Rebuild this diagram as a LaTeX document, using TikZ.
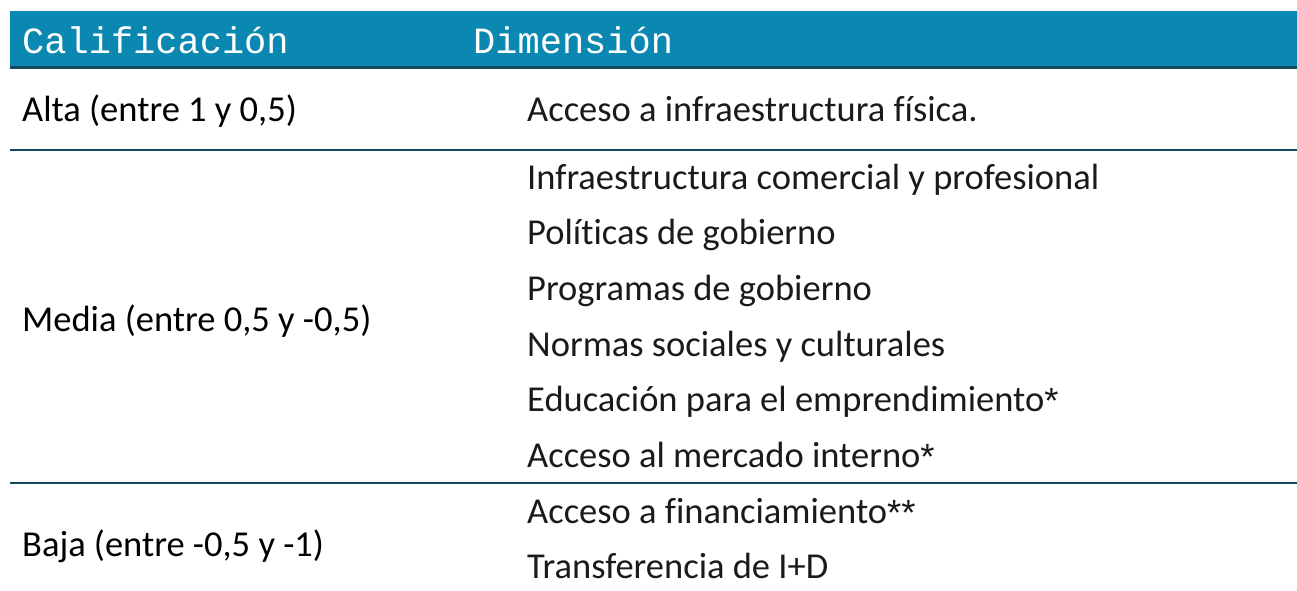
\documentclass[tikz,border=0pt]{standalone}
\usepackage{fontspec}
\setmainfont[Ligatures={NoCommon,NoRare,NoDiscretionary}]{Carlito}
\newfontfamily\hdrfont{Liberation Mono}
\newfontfamily\astfont{Liberation Sans}
\newcommand{\myast}{{\astfont\raisebox{-2pt}{*}}}
\definecolor{hdrfill}{HTML}{0A88B1}
\definecolor{ruledark}{HTML}{134B5C}
\definecolor{bodytext}{HTML}{1A1A1A}
\begin{document}
\begin{tikzpicture}[x=1pt,y=-1pt,
  hdr/.style={anchor=base west,inner sep=0pt,text=white,font=\hdrfont\fontsize{37}{40}\selectfont},
  lefttxt/.style={anchor=base west,inner sep=0pt,text=black,font=\fontsize{36.5}{40}\selectfont},
  righttxt/.style={anchor=base west,inner sep=0pt,text=bodytext,font=\fontsize{36.5}{40}\selectfont},
  rule/.style={draw=ruledark,line width=2.6pt}]
\useasboundingbox (0,0) rectangle (1297,590);
\fill[hdrfill] (10,11) rectangle (1297,66);
\draw[rule,line width=3pt] (10,67) -- (1297,67);
\draw[rule] (10,150) -- (1297,150);
\draw[rule] (10,483) -- (1297,483);
\node[hdr] (h1) at (22,53) {Calificación};
\node[hdr] (h2) at (473,53) {Dimensión};
\node[lefttxt] (alta) at (22,121) {Alta (entre 1 y 0,5)};
\node[lefttxt] (media) at (22,331) {Media (entre 0,5 y -0,5)};
\node[lefttxt] (baja) at (22,556) {Baja (entre -0,5 y -1)};
\node[righttxt] (r0) at (527,121) {Acceso a infraestructura física.};
\node[righttxt] (r1) at (527,189) {Infraestructura comercial y profesional};
\node[righttxt] (r2) at (527,244.7) {Políticas de gobierno};
\node[righttxt] (r3) at (527,300.4) {Programas de gobierno};
\node[righttxt] (r4) at (527,356.1) {Normas sociales y culturales};
\node[righttxt] (r5) at (527,411.8) {Educación para el emprendimiento\myast};
\node[righttxt] (r6) at (527,467.5) {Acceso al mercado interno\myast};
\node[righttxt] (r7) at (527,523.2) {Acceso a financiamiento\myast\myast};
\node[righttxt] (r8) at (527,578.9) {Transferencia de I+D};
\end{tikzpicture}
\end{document}
